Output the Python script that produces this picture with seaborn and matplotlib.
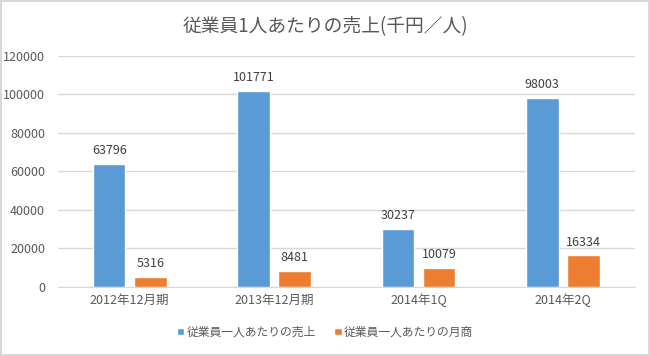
import numpy as np
import pandas as pd
import matplotlib
matplotlib.use('Agg')
import matplotlib.pyplot as plt
import seaborn as sns
from matplotlib.patches import Patch

# データ
categories = ['2012年12月期', '2013年12月期', '2014年1Q', '2014年2Q']
series_names = ['従業員一人あたりの売上', '従業員一人あたりの月商']
sales = [63796, 101771, 30237, 98003]
monthly = [5316, 8481, 10079, 16334]
yticks = [0, 20000, 40000, 60000, 80000, 100000, 120000]
colors = ['#5B9BD5', '#ED7D31']

df = pd.DataFrame({
    'category': categories * 2,
    'series': [series_names[0]] * 4 + [series_names[1]] * 4,
    'value': sales + monthly,
})

sns.set_style('white')
plt.rcParams['font.family'] = ['Noto Sans CJK JP', 'DejaVu Sans']

fig = plt.figure(figsize=(6.5, 3.56), dpi=100)
fig.patch.set_edgecolor('#d9d9d9')
fig.patch.set_linewidth(1.5)
ax = fig.add_axes([0.0885, 0.194, 0.8885, 0.649])

# 棒グラフ
sns.barplot(data=df, x='category', y='value', hue='series', palette=colors,
            width=0.57, gap=0.21, ax=ax, legend=False, saturation=1)

for c in ax.containers:
    ax.bar_label(c, fmt='%d', padding=5, fontsize=9, color='#404040')

ax.set_ylim(0, 120000)
ax.set_yticks(yticks)
ax.set_yticklabels([str(v) for v in yticks])
ax.yaxis.grid(True, color='#d9d9d9', linewidth=1)
ax.set_axisbelow(True)
for s in ['top', 'left', 'right']:
    ax.spines[s].set_visible(False)
ax.spines['bottom'].set_color('#d9d9d9')
ax.tick_params(axis='both', length=0, labelsize=9, colors='#595959')
ax.tick_params(axis='y', pad=9)
ax.tick_params(axis='x', pad=5)
ax.set_xlabel('')
ax.set_ylabel('')

fig.text(0.5, 0.925, '従業員1人あたりの売上(千円／人)', ha='center', va='center',
         fontsize=13.5, color='#595959')

# 凡例
handles = [Patch(facecolor=colors[i], label=series_names[i]) for i in range(2)]
fig.legend(handles=handles, loc='center', bbox_to_anchor=(0.5, 0.067), ncol=2,
           frameon=False, fontsize=8.5, handlelength=0.6, handleheight=0.6,
           handletextpad=0.2, columnspacing=1.6, labelcolor='#595959')

fig.savefig('out.png', dpi=100)
